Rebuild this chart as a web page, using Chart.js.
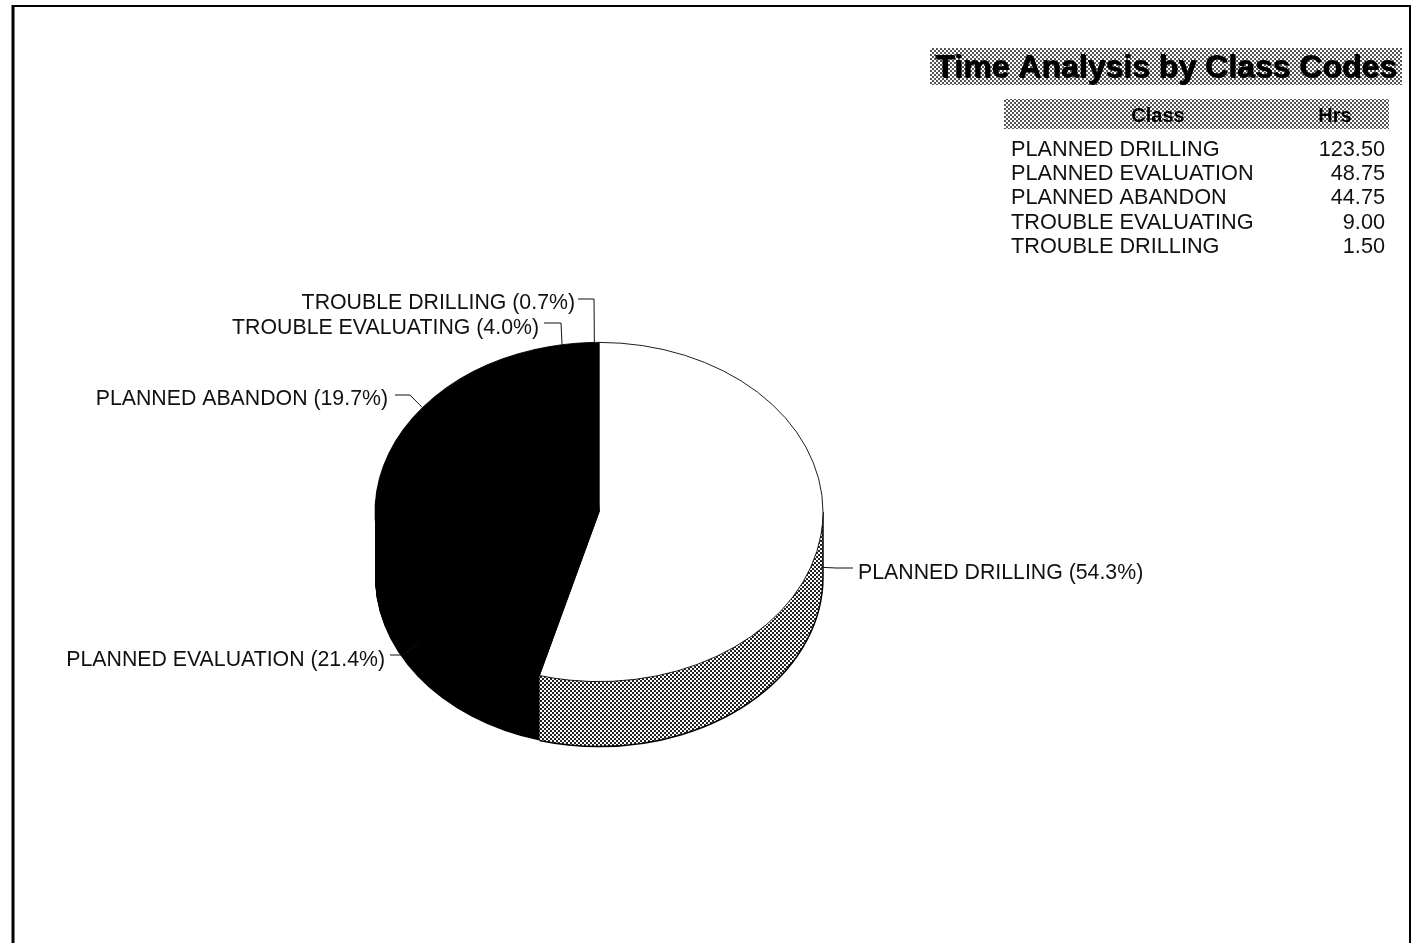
<!DOCTYPE html>
<html>
<head>
<meta charset="utf-8">
<title>Time Analysis by Class Codes</title>
<script src="https://cdn.jsdelivr.net/npm/chart.js@4/dist/chart.umd.min.js"></script>
<style>
  html, body { margin: 0; padding: 0; background: #fff; }
  canvas { display: block; }
</style>
</head>
<body>
<canvas id="pie" width="1415" height="943"></canvas>
<script>
const classes = ['PLANNED DRILLING', 'PLANNED EVALUATION', 'PLANNED ABANDON', 'TROUBLE EVALUATING', 'TROUBLE DRILLING'];
const hours = [123.50, 48.75, 44.75, 9.00, 1.50];
const percents = ['54.3', '21.4', '19.7', '4.0', '0.7'];
const hourLabels = ['123.50', '48.75', '44.75', '9.00', '1.50'];

// label text end (x, baseline) and leader line start / elbow, per slice
const labelX = [858, 385, 388, 539, 575];
const labelBase = [579, 666, 405, 334, 309];
const leaderStart = [[853, 568], [390, 655], [395, 395], [544, 323], [578, 299]];
const leaderElbow = [[836, 568], [402, 655], [410, 395], [561, 323], [594, 299]];

const FONT = '"Liberation Sans", Arial, sans-serif';
const CENTER_X = 599, CENTER_Y = 512, RX = 224.5, RY = 170, DEPTH = 65;
const SQUASH = RY / RX;

function makeDither(dark) {
    const tile = document.createElement('canvas');
    tile.width = tile.height = 4;
    const t = tile.getContext('2d');
    t.fillStyle = '#fff';
    t.fillRect(0, 0, 4, 4);
    t.fillStyle = dark;
    t.fillRect(0, 0, 2, 2);
    t.fillRect(2, 2, 2, 2);
    return document.getElementById('pie').getContext('2d').createPattern(tile, 'repeat');
}
const dither = makeDither('#222');
const headerDither = makeDither('#555');

function squash(ctx, arc, dy) {
    ctx.translate(arc.x, arc.y + dy);
    ctx.scale(1, SQUASH);
    ctx.translate(-arc.x, -arc.y);
}

// the side wall of the 3d pie, built from the library's own arc elements
function drawSide(ctx, arc, fill) {
    const opts = arc.options;
    arc.options = { ...opts, backgroundColor: fill, borderColor: fill, borderWidth: 0 };
    for (let d = DEPTH; d > 0; d--) {
        ctx.save();
        squash(ctx, arc, d);
        if (fill === dither) {
            dither.setTransform(ctx.getTransform().inverse());
        }
        arc.draw(ctx);
        ctx.restore();
    }
    arc.options = opts;
}

function anchorOf(arc) {
    const mid = (arc.startAngle + arc.endAngle) / 2;
    const x = arc.x + Math.cos(mid) * arc.outerRadius;
    const y = arc.y + Math.sin(mid) * arc.outerRadius * SQUASH;
    return [x, Math.sin(mid) > 0 ? y + DEPTH / 2 : y];
}

function frameLine(ctx, width, x1, y1, x2, y2) {
    ctx.lineWidth = width;
    ctx.beginPath();
    ctx.moveTo(x1, y1);
    ctx.lineTo(x2, y2);
    ctx.stroke();
}

const pie3d = {
    id: 'pie3d',
    beforeDraw(chart) {
        const ctx = chart.ctx;
        ctx.save();
        ctx.fillStyle = '#fff';
        ctx.fillRect(0, 0, chart.width, chart.height);
        ctx.strokeStyle = '#000';
        frameLine(ctx, 3, 13, 943, 13, 5);
        frameLine(ctx, 2, 12, 6, 1411, 6);
        frameLine(ctx, 2, 1410, 5, 1410, 943);
        ctx.restore();
    },
    beforeDatasetsDraw(chart) {
        const ctx = chart.ctx;
        const arcs = chart.getDatasetMeta(0).data;
        for (let i = arcs.length - 1; i > 0; i--) {
            drawSide(ctx, arcs[i], '#000');
        }
        drawSide(ctx, arcs[0], dither);

        // rim of the dithered wall
        const a = arcs[0];
        ctx.save();
        ctx.save();
        squash(ctx, a, DEPTH);
        ctx.beginPath();
        ctx.arc(a.x, a.y, a.outerRadius, Math.max(a.startAngle, 0), a.endAngle);
        ctx.restore();
        ctx.strokeStyle = '#000';
        ctx.lineWidth = 1.5;
        ctx.stroke();
        ctx.beginPath();
        ctx.moveTo(a.x + a.outerRadius, a.y);
        ctx.lineTo(a.x + a.outerRadius, a.y + DEPTH);
        ctx.stroke();
        ctx.restore();

        ctx.save();
        squash(ctx, a, 0);
    },
    afterDatasetsDraw(chart) {
        const ctx = chart.ctx;
        ctx.restore();
        const arcs = chart.getDatasetMeta(0).data;

        ctx.save();
        ctx.strokeStyle = '#111';
        ctx.lineWidth = 1;
        arcs.forEach((arc, i) => {
            const end = anchorOf(arc);
            ctx.beginPath();
            ctx.moveTo(leaderStart[i][0], leaderStart[i][1]);
            ctx.lineTo(leaderElbow[i][0], leaderElbow[i][1]);
            ctx.lineTo(end[0], end[1]);
            ctx.stroke();
        });

        ctx.fillStyle = '#111';
        ctx.font = '21.3px ' + FONT;
        ctx.textBaseline = 'alphabetic';
        classes.forEach((name, i) => {
            ctx.textAlign = i === 0 ? 'left' : 'right';
            ctx.fillText(name + ' (' + percents[i] + '%)', labelX[i], labelBase[i]);
        });
        ctx.restore();
    },
    afterDraw(chart) {
        const ctx = chart.ctx;
        ctx.save();
        ctx.fillStyle = headerDither;
        ctx.fillRect(930, 48, 472, 37);
        ctx.fillRect(1004, 99, 385, 30);

        ctx.fillStyle = '#000';
        ctx.textBaseline = 'alphabetic';
        ctx.textAlign = 'center';
        ctx.font = 'bold 32px ' + FONT;
        ctx.fillText('Time Analysis by Class Codes', 1166, 77);
        ctx.fillText('Time Analysis by Class Codes', 1167, 78);
        ctx.font = 'bold 20px ' + FONT;
        ctx.fillText('Class', 1158, 122);
        ctx.fillText('Hrs', 1335, 122);

        ctx.fillStyle = '#111';
        ctx.font = '21.7px ' + FONT;
        classes.forEach((name, i) => {
            const y = 156 + i * 24.2;
            ctx.textAlign = 'left';
            ctx.fillText(name, 1011, y);
            ctx.textAlign = 'right';
            ctx.fillText(hourLabels[i], 1385, y);
        });
        ctx.restore();
    }
};

new Chart(document.getElementById('pie'), {
    type: 'pie',
    data: {
        labels: classes,
        datasets: [{
            data: hours,
            backgroundColor: ['#fff', '#000', '#000', '#000', '#000'],
            borderColor: '#000',
            borderWidth: 1
        }]
    },
    options: {
        responsive: false,
        animation: false,
        layout: {
            padding: {
                left: CENTER_X - RX,
                right: 1415 - CENTER_X - RX,
                top: CENTER_Y - RX,
                bottom: 943 - CENTER_Y - RX
            }
        },
        plugins: {
            legend: { display: false },
            tooltip: { enabled: false }
        }
    },
    plugins: [pie3d]
});
</script>
</body>
</html>
